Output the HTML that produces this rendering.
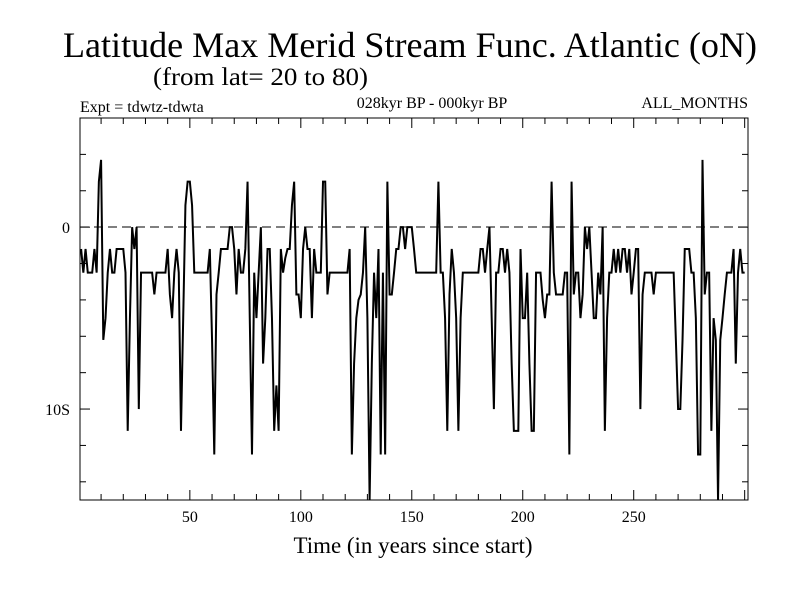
<!DOCTYPE html>
<html><head><meta charset="utf-8"><style>
body{margin:0;background:#fff;}
svg text{font-family:"Liberation Serif",serif;fill:#000;}
</style></head><body>
<svg id="chart" width="800" height="600" xmlns="http://www.w3.org/2000/svg">
<rect width="800" height="600" fill="#fff"/>
<text x="410" y="57" font-size="36" text-anchor="middle" textLength="694" lengthAdjust="spacingAndGlyphs">Latitude Max Merid Stream Func. Atlantic (oN)</text>
<text x="153" y="85" font-size="25" textLength="215" lengthAdjust="spacingAndGlyphs">(from lat= 20 to 80)</text>
<text x="80" y="112" font-size="16">Expt = tdwtz-tdwta</text>
<text x="432" y="108" font-size="16" text-anchor="middle">028kyr BP - 000kyr BP</text>
<text x="748" y="108" font-size="16" text-anchor="end">ALL_MONTHS</text>
<text x="413" y="553" font-size="23" text-anchor="middle" textLength="239" lengthAdjust="spacingAndGlyphs">Time (in years since start)</text>
<g id="axes"></g>
<line x1="80" y1="227" x2="748" y2="227" stroke="#000" stroke-width="1" stroke-dasharray="9,5"/>
<polyline id="series" fill="none" stroke="#000" stroke-width="2" stroke-linejoin="miter"/>
<rect x="80" y="118" width="668" height="382" fill="none" stroke="#000" stroke-width="1"/>
</svg>
<script>
const values = [-1.2,-2.5,-1.2,-2.5,-2.5,-2.5,-1.2,-2.5,2.5,3.7,-6.2,-5,-2.5,-1.2,-2.5,-2.5,-1.2,-1.2,-1.2,-1.2,
-2.5,-11.2,-5,0,-1.2,0,-10,-2.5,-2.5,-2.5,-2.5,-2.5,-2.5,-3.7,-2.5,-2.5,-2.5,-2.5,-2.5,-1.2,
-3.7,-5,-2.5,-1.2,-2.5,-11.2,-5,1.2,2.5,2.5,1.2,-2.5,-2.5,-2.5,-2.5,-2.5,-2.5,-2.5,-1.2,-6.2,
-12.5,-3.7,-2.5,-1.2,-1.2,-1.2,-1.2,0,0,-1.2,-3.7,-1.2,-2.5,-2.5,-1.2,2.5,-5,-12.5,-2.5,-5,
-2.5,0,-7.5,-5,-1.2,-1.2,-5,-11.2,-8.7,-11.2,-1.2,-2.5,-1.7,-1.2,-1.2,1.2,2.5,-3.7,-3.7,-5,
-1.2,0,-1.2,-1.2,-5,-1.2,-2.5,-2.5,-2.5,2.5,2.5,-3.7,-2.5,-2.5,-2.5,-2.5,-2.5,-2.5,-2.5,-2.5,
-2.5,-1.2,-12.5,-7.5,-5,-4,-3.7,-2.5,0,-5,-15,-7.5,-2.5,-5,-1.2,-12.5,-2.5,-12.5,2.5,-3.7,
-3.7,-2.5,-1.2,-1.2,0,0,-1.2,0,0,0,-1.2,-2.5,-2.5,-2.5,-2.5,-2.5,-2.5,-2.5,-2.5,-2.5,
-2.5,2.5,-2.5,-2.5,-5,-11.2,-3.7,-1.2,-2.5,-5,-11.2,-5,-2.5,-2.5,-2.5,-2.5,-2.5,-2.5,-2.5,-2.5,
-1.2,-1.2,-2.5,-1.2,0,-5,-10,-2.5,-2.5,-1.2,-1.2,-2.5,-1.2,-2.5,-7.5,-11.2,-11.2,-11.2,-1.2,-5,
-5,-2.5,-7.5,-11.2,-11.2,-2.5,-2.5,-2.5,-4,-5,-3.7,-3.7,2.5,-2.5,-3.7,-3.7,-3.7,-3.7,-2.5,-2.5,
-12.5,2.5,-3.7,-2.5,-2.5,-5,-3.7,0,-1.2,0,-2.5,-5,-5,-2.5,-3.7,0,-11.2,-5,-2.5,-2.5,
-1.2,-2.5,-1.2,-2.5,-1.2,-1.2,-2.5,-1.2,-3.7,-2.5,-1.2,-1.2,-10,-3.7,-2.5,-2.5,-2.5,-2.5,-3.7,-2.5,
-2.5,-2.5,-2.5,-2.5,-2.5,-2.5,-2.5,-2.5,-6.2,-10,-10,-6.2,-1.2,-1.2,-1.2,-2.5,-2.5,-5,-12.5,-12.5,
3.7,-3.7,-2.5,-2.5,-11.2,-5,-6.2,-15,-6.2,-5,-3.7,-2.5,-2.5,-2.5,-1.2,-7.5,-2.5,-1.2,-2.5,-2.5];
const xTickLabels = [50,100,150,200,250];
const yTickValues = [0,-10];
const yTickLabels = ["0","10S"];

const X0=80,X1=748,Y0=118,Y1=500, tMin=0.5,tMax=301.5, vMin=-15,vMax=6;
const xs = t => X0 + (t - tMin)/(tMax - tMin)*(X1 - X0);
const ys = v => Y1 - (v - vMin)/(vMax - vMin)*(Y1 - Y0);
const NS="http://www.w3.org/2000/svg";
const axes=document.getElementById('axes');
function mk(tag,attrs,parent){const e=document.createElementNS(NS,tag);for(const k in attrs)e.setAttribute(k,attrs[k]);parent.appendChild(e);return e;}

for(let t=10;t<=300;t+=10){
  const major = t%50===0, L = major?10:6, x=xs(t);
  const a=mk('line',{x1:x,x2:x,y1:Y1,y2:Y1-L,stroke:'#000'},axes);
  
  
  const b=mk('line',{x1:x,x2:x,y1:Y0,y2:Y0+L,stroke:'#000'},axes);
  
  
}
xTickLabels.forEach(v=>{
  const tx=mk('text',{x:xs(v),y:522,'font-size':16,'text-anchor':'middle'},axes);
  tx.textContent=v;
  
  
});
for(let v=-14;v<=6;v+=2){
  const y=ys(v), major=(v%10===0), L=major?10:6;
  const a=mk('line',{x1:X0,x2:X0+L,y1:y,y2:y,stroke:'#000'},axes);
  
  
  const b=mk('line',{x1:X1,x2:X1-L,y1:y,y2:y,stroke:'#000'},axes);
  
  
}
yTickValues.forEach((v,i)=>{
  const tx=mk('text',{x:70,y:ys(v)+6,'font-size':16,'text-anchor':'end'},axes);
  tx.textContent=yTickLabels[i];
  
  
});
document.getElementById('series').setAttribute('points', values.map((v,i)=>xs(i+1).toFixed(2)+','+ys(v).toFixed(2)).join(' '));
</script>
</body></html>
